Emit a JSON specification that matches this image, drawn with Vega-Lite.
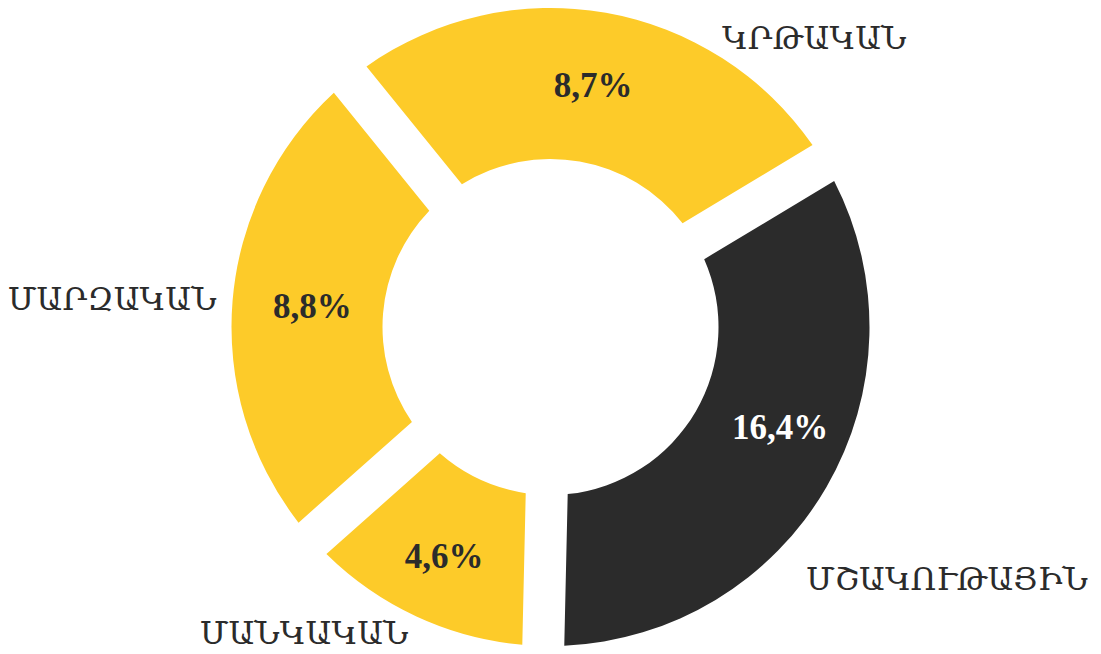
{
  "$schema": "https://vega.github.io/schema/vega-lite/v6.json",
  "width": 1101,
  "height": 654,
  "autosize": {"type": "fit", "contains": "padding"},
  "padding": 0,
  "background": "white",
  "view": {"stroke": null},
  "data": {
    "values": [
      {"name": "ՄՇԱԿՈՒԹԱՅԻՆ", "pct": "16,4%", "span": 122.3, "rank": 1, "group": "dark"},
      {"name": "ՄԱՆԿԱԿԱՆ", "pct": "4,6%", "span": 47.1, "rank": 2, "group": "light"},
      {"name": "ՄԱՐԶԱԿԱՆ", "pct": "8,8%", "span": 92.6, "rank": 3, "group": "light"},
      {"name": "ԿՐԹԱԿԱՆ", "pct": "8,7%", "span": 98, "rank": 4, "group": "light"}
    ]
  },
  "encoding": {
    "theta": {"field": "span", "type": "quantitative", "stack": true, "scale": {"range": [1.02974, 7.31293]}},
    "order": {"field": "rank", "type": "quantitative"},
    "detail": {"field": "name", "type": "nominal"}
  },
  "layer": [
    {
      "mark": {"type": "arc", "radius": 319, "radius2": 168, "padAngle": 0.1165},
      "encoding": {
        "color": {"field": "group", "type": "nominal", "scale": {"domain": ["dark", "light"], "range": ["#2b2b2b", "#fdcb29"]}, "legend": null}
      }
    },
    {
      "mark": {
        "type": "text", "radius": 245, "font": "Liberation Serif", "fontWeight": "bold", "fontSize": 35,
        "align": "center", "baseline": "middle",
        "thetaOffset": {"expr": "datum.rank === 1 ? -0.11 : 0"},
        "radiusOffset": {"expr": "datum.rank === 1 ? 6 : datum.rank === 2 ? 8 : datum.rank === 3 ? -6 : 0"}
      },
      "encoding": {
        "text": {"field": "pct"},
        "color": {"condition": {"test": "datum.group === 'dark'", "value": "#ffffff"}, "value": "#2b2b2b"}
      }
    },
    {
      "mark": {
        "type": "text", "radius": 335, "font": "DejaVu Serif", "fontSize": 32, "color": "#2b2b2b",
        "baseline": "middle",
        "align": {"expr": "datum.rank === 1 || datum.rank === 4 ? 'left' : 'right'"},
        "thetaOffset": {"expr": "datum.rank === 1 ? 0.255 : datum.rank === 4 ? 0.363 : 0"},
        "radiusOffset": {"expr": "datum.rank === 1 ? 25 : datum.rank === 2 ? 3 : 0"}
      },
      "encoding": {
        "text": {"field": "name"}
      }
    }
  ]
}
